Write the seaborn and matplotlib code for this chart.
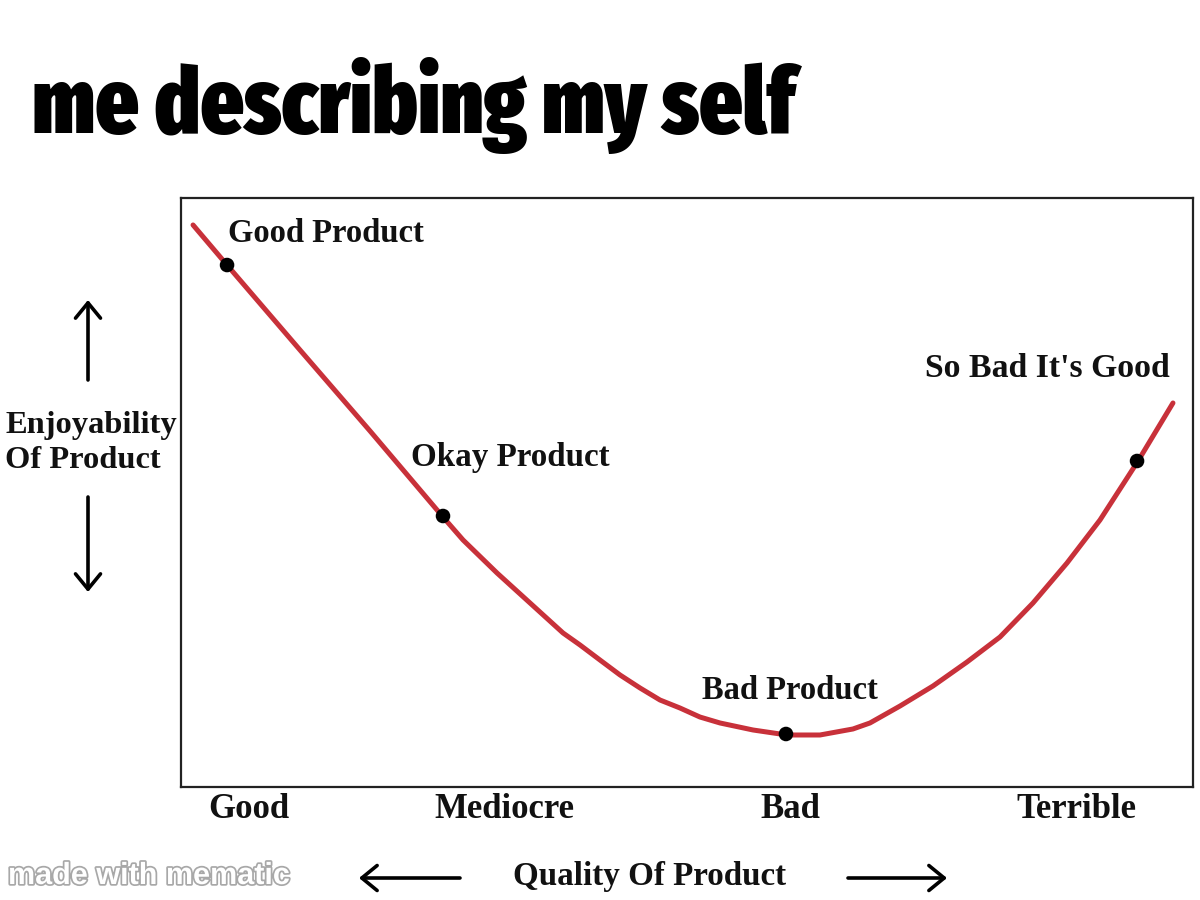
import matplotlib
matplotlib.use("Agg")
import matplotlib.pyplot as plt
import matplotlib.patheffects as pe
from matplotlib import font_manager as fm
from matplotlib.patches import FancyArrowPatch
import seaborn as sns
import pandas as pd

# ---- data ----
quality = [1.19, 4.55, 11.76, 18.68, 25.89, 27.87, 31.23, 34.49, 37.75, 39.43,
           41.40, 43.38, 45.36, 47.33, 49.31, 51.28, 53.26, 56.52, 59.88, 63.14,
           66.40, 68.08, 71.05, 74.31, 77.67, 80.93, 84.19, 87.55, 90.81, 94.57,
           98.02]
enjoyability = [95.42, 88.62, 74.19, 60.44, 45.84, 41.94, 36.33, 31.24, 26.15, 24.11,
                21.56, 19.02, 16.81, 14.77, 13.41, 11.88, 10.87, 9.68, 8.83, 8.83,
                9.85, 10.87, 13.75, 17.15, 21.22, 25.47, 31.24, 38.03, 45.33, 55.35,
                65.20]
point_labels = ["Good Product", "Okay Product", "Bad Product", "So Bad It's Good"]
point_quality = [4.55, 25.89, 59.78, 94.47]
point_enjoy = [88.62, 46.01, 9.00, 55.35]
tick_labels = ["Good", "Mediocre", "Bad", "Terrible"]
tick_pos = [6.72, 32.0, 60.2, 88.5]

curve = pd.DataFrame({"quality": quality, "enjoyability": enjoyability})
points = pd.DataFrame({"quality": point_quality, "enjoyability": point_enjoy,
                       "label": point_labels})

sns.set_theme(style="white")
SERIF = ["Liberation Serif", "DejaVu Serif"]
plt.rcParams["font.family"] = SERIF

fig = plt.figure(figsize=(12, 9), dpi=100)
ax = fig.add_axes([181 / 1200, 1 - 787 / 900, 1012 / 1200, 589 / 900])

sns.lineplot(data=curve, x="quality", y="enjoyability", ax=ax,
             color="#c8313a", linewidth=3.6, sort=False)
sns.scatterplot(data=points, x="quality", y="enjoyability", ax=ax,
                color="black", s=110, edgecolor="none", zorder=5)

label_pos = [(4.64, 93.9), (22.73, 56.0), (51.48, 16.3), (73.52, 71.1)]
label_size = [23.5, 23.8, 23.5, 24.3]
for (lx, ly), txt, fs in zip(label_pos, point_labels, label_size):
    ax.text(lx, ly, txt, fontsize=fs, fontweight="bold", color="#111111",
            ha="left", va="center", family=SERIF)

ax.set_xlim(0, 100)
ax.set_ylim(0, 100)
ax.set_xticks(tick_pos)
ax.set_xticklabels(tick_labels, fontsize=25, fontweight="bold", family=SERIF)
ax.set_yticks([])
ax.tick_params(axis="x", length=0, pad=4, colors="#111111")
ax.set_xlabel("")
ax.set_ylabel("")
for sp in ax.spines.values():
    sp.set_visible(True)
    sp.set_color("#222222")
    sp.set_linewidth(1.6)

# y-axis label and arrows
fig.text(5 / 1200, 1 - 443 / 900, "Enjoyability\nOf Product", fontsize=23.4,
         fontweight="bold", ha="left", va="center", multialignment="left",
         linespacing=1.25, color="#111111", family=SERIF)
arrow_kw = dict(arrowstyle="->,head_length=0.55,head_width=0.45", lw=2.6,
                color="black", mutation_scale=20, shrinkA=0, shrinkB=0)
def farrow(x0, y0, x1, y1):
    fig.add_artist(FancyArrowPatch((x0 / 1200, 1 - y0 / 900), (x1 / 1200, 1 - y1 / 900),
                                   transform=fig.transFigure, **arrow_kw))
farrow(88, 380, 88, 300)
farrow(88, 497, 88, 592)
farrow(460, 878, 359, 878)
farrow(848, 878, 947, 878)

fig.text(650 / 1200, 1 - 876 / 900, "Quality Of Product", fontsize=23.8,
         fontweight="bold", ha="center", va="center", color="#111111", family=SERIF)

# title: pick a condensed heavy font if one is installed
def pick_condensed():
    best, best_score = None, -1
    for f in fm.fontManager.ttflist:
        fn = f.fname.lower().replace(" ", "").replace("_", "").replace("-", "")
        nm = f.name.lower()
        if not any(k in fn or k in nm for k in ("condensed", "narrow", "anton", "oswald")):
            continue
        if "italic" in fn or "oblique" in fn:
            continue
        w = f.weight
        if isinstance(w, str):
            w = {"black": 900, "heavy": 900, "extrabold": 800, "bold": 700,
                 "semibold": 600, "medium": 500}.get(w.lower(), 400)
        score = w
        if "extracondensed" in fn:
            score += 150
        elif "semicondensed" in fn:
            score -= 100
        if score > best_score:
            best, best_score = f, score
    return best

cf = pick_condensed()
if cf is not None:
    tprops = fm.FontProperties(fname=cf.fname, size=64)
else:
    tprops = fm.FontProperties(family="DejaVu Sans", weight="bold", size=64)
title = fig.text(32 / 1200, 1 - 133 / 900, "me describing my self",
                 fontproperties=tprops, ha="left", va="baseline", color="black")
renderer = fig.canvas.get_renderer()
w = title.get_window_extent(renderer).width
new_size = min(64 * 763 / w, 80)
title.set_fontsize(new_size)

# watermark
fig.text(8 / 1200, 1 - 876 / 900, "made with mematic", fontsize=22,
         ha="left", va="center", color="white", fontweight="bold",
         family=["Liberation Sans", "DejaVu Sans"],
         path_effects=[pe.withStroke(linewidth=2.5, foreground="#a8a8a8")])

fig.savefig("out.png", dpi=100, facecolor="white")
